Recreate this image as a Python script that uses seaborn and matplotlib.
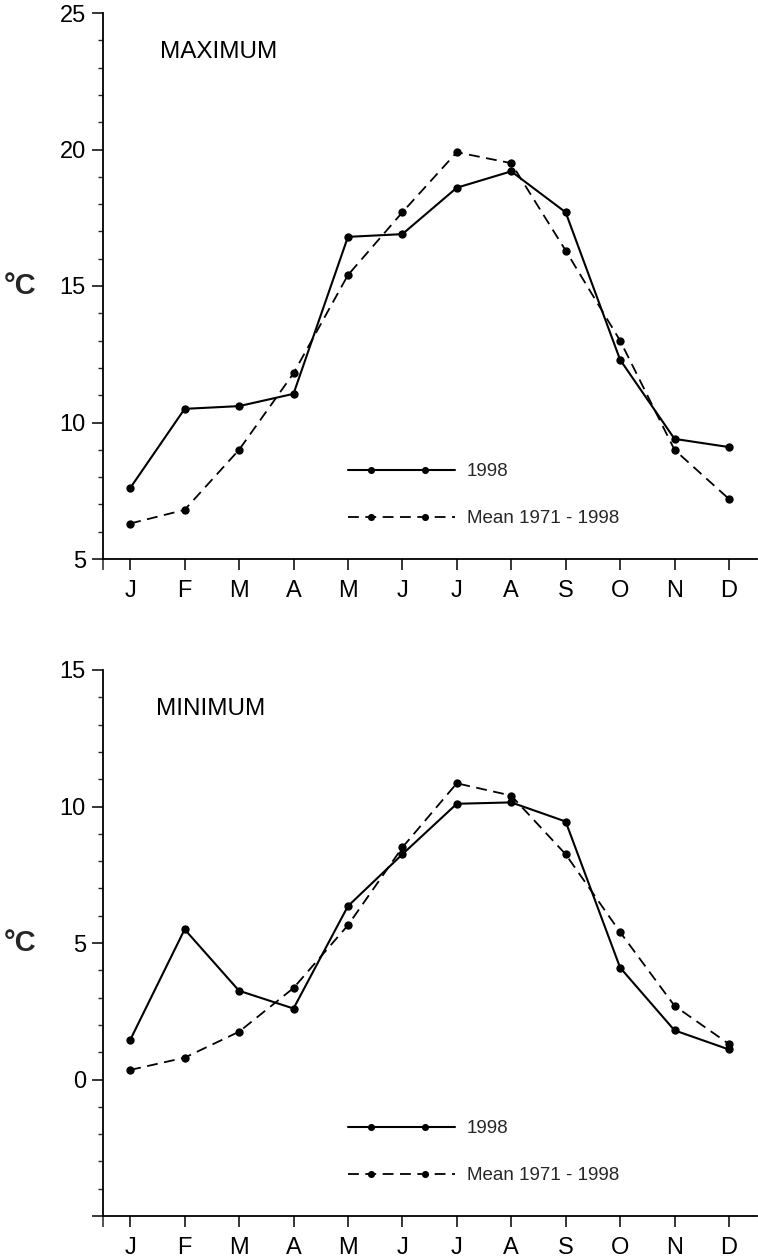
import numpy as np
import pandas as pd
import matplotlib
matplotlib.use("Agg")
import matplotlib.pyplot as plt
from matplotlib.lines import Line2D
from matplotlib.legend_handler import HandlerLine2D
from matplotlib.ticker import MultipleLocator
import seaborn as sns

# ---------------- data ----------------
months = ["J", "F", "M", "A", "M", "J", "J", "A", "S", "O", "N", "D"]
max_1998 = [7.6, 10.5, 10.6, 11.05, 16.8, 16.9, 18.6, 19.2, 17.7, 12.3, 9.4, 9.1]
max_mean = [6.3, 6.8, 9.0, 11.8, 15.4, 17.7, 19.9, 19.5, 16.3, 13.0, 9.0, 7.2]
min_1998 = [1.45, 5.5, 3.25, 2.6, 6.35, 8.25, 10.1, 10.15, 9.45, 4.1, 1.8, 1.1]
min_mean = [0.35, 0.8, 1.75, 3.35, 5.65, 8.5, 10.85, 10.4, 8.25, 5.4, 2.7, 1.3]
series_labels = ["1998", "Mean 1971 - 1998"]
panel_titles = ["MAXIMUM", "MINIMUM"]
y_label = "°C"

sns.set_style("ticks")
plt.rcParams["font.family"] = ["Liberation Sans", "DejaVu Sans"]


class TwoDotHandler(HandlerLine2D):
    """Legend sample: a full-length line with two dots placed inside it."""
    def create_artists(self, legend, orig_handle, xdescent, ydescent,
                       width, height, fontsize, trans):
        x0 = -xdescent
        y = (height - ydescent) / 2
        line = Line2D([x0, x0 + width], [y, y])
        self.update_prop(line, orig_handle, legend)
        line.set_marker("none")
        mk = Line2D([x0 + 0.22 * width, x0 + 0.72 * width], [y, y])
        self.update_prop(mk, orig_handle, legend)
        mk.set_linestyle("none")
        mk.set_markersize(orig_handle.get_markersize() * legend.markerscale)
        line.set_transform(trans)
        mk.set_transform(trans)
        return [line, mk]


fig = plt.figure(figsize=(7.58, 12.6), dpi=100)
W, H = 758, 1260
ax_left = 103 / W
ax_w = 1.0 - ax_left - 0.001
ax_top = fig.add_axes([ax_left, 1 - 559 / H, ax_w, 546 / H])
ax_bot = fig.add_axes([ax_left, 1 - 1216 / H, ax_w, 546 / H])

x_idx = np.arange(len(months))

panels = [
    (ax_top, max_1998, max_mean, (5, 25), [5, 10, 15, 20, 25], ["5", "10", "15", "20", "25"], panel_titles[0], 0.087),
    (ax_bot, min_1998, min_mean, (-5, 15), [-5, 0, 5, 10, 15], ["", "0", "5", "10", "15"], panel_titles[1], 0.081),
]

for ax, s1998, smean, ylim, yticks, yticklabels, title, tx in panels:
    df = pd.DataFrame({"month": x_idx, "v1998": s1998, "vmean": smean})
    sns.lineplot(data=df, x="month", y="v1998", ax=ax, color="black",
                 linewidth=1.5, marker="o", markersize=6,
                 markeredgewidth=0, label=series_labels[0], legend=False)
    sns.lineplot(data=df, x="month", y="vmean", ax=ax, color="black",
                 linewidth=1.3, linestyle=(0, (6, 3.6)), marker="o",
                 markersize=6, markeredgewidth=0, label=series_labels[1],
                 legend=False)

    ax.set_xlim(-0.5, 11.52)
    ax.set_ylim(*ylim)
    ax.set_xticks(x_idx)
    ax.set_xticklabels(months)
    ax.set_xticks([-0.5], minor=True)
    ax.set_yticks(yticks)
    ax.set_yticklabels(yticklabels)
    ax.yaxis.set_minor_locator(MultipleLocator(1))

    ax.tick_params(axis="x", which="major", direction="out", length=8,
                   width=1.1, pad=7, labelsize=17, colors="black")
    ax.tick_params(axis="x", which="minor", direction="out", length=8,
                   width=1.1)
    ax.tick_params(axis="y", which="major", direction="out", length=8,
                   width=1.1, pad=4.3, labelsize=17, colors="black")
    ax.tick_params(axis="y", which="minor", direction="out", length=3.5,
                   width=1.0)

    for side in ["top", "right"]:
        ax.spines[side].set_visible(False)
    for side in ["left", "bottom"]:
        ax.spines[side].set_linewidth(1.3)
        ax.spines[side].set_color("black")

    ax.set_xlabel("")
    ax.set_ylabel(y_label, rotation=0, fontsize=21, fontweight="bold",
                  ha="center", va="center")
    ax.yaxis.set_label_coords(-0.127, 0.5)

    ax.text(tx, 0.929, title, transform=ax.transAxes, fontsize=17.5,
            ha="left", va="center", color="black")

    handles, labels = ax.get_legend_handles_labels()
    ax.legend(handles, labels, handler_map={Line2D: TwoDotHandler()},
              loc="center left", bbox_to_anchor=(0.374, 0.117),
              frameon=False, fontsize=13.5, handlelength=5.7,
              handletextpad=0.65, labelspacing=1.6, borderpad=0,
              borderaxespad=0, markerscale=0.85)
    ax.set_facecolor("white")

fig.patch.set_facecolor("white")
fig.savefig("out.png", dpi=100, facecolor="white")
